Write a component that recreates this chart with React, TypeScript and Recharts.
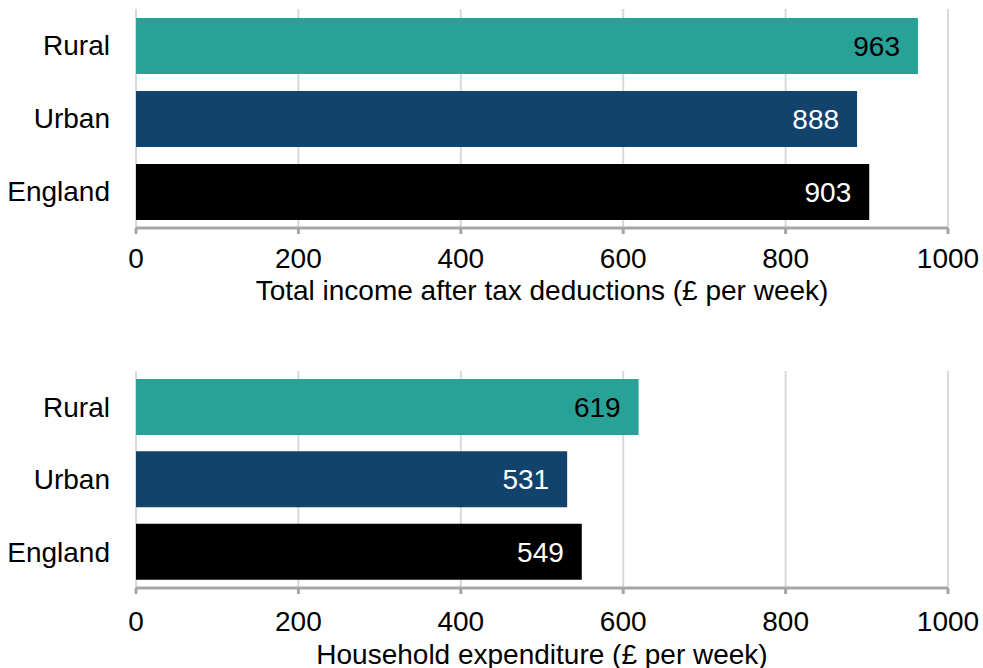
import { BarChart, Bar, XAxis, YAxis, CartesianGrid, Cell, LabelList } from "recharts";

const areas = ["Rural", "Urban", "England"];
const incomeValues = [963, 888, 903];
const expenditureValues = [619, 531, 549];
const xTicks = [0, 200, 400, 600, 800, 1000];

const barColors = ["#28a197", "#12436d", "#000000"];
const labelColors = ["#000000", "#ffffff", "#ffffff"];
const FONT = "'Liberation Sans', Arial, sans-serif";
const FS = 28;

const incomeData = areas.map((area, i) => ({ area, value: incomeValues[i] }));
const expenditureData = areas.map((area, i) => ({ area, value: expenditureValues[i] }));

// value label sits inside the bar, right aligned near its end
const renderValue = (props: any) => {
    const { x, y, width, height, value, index } = props;
    return (
        <text
            x={x + width - 18}
            y={y + height / 2}
            dy="0.36em"
            textAnchor="end"
            fontSize={FS}
            fontFamily={FONT}
            fill={labelColors[index]}
        >
            {value}
        </text>
    );
};

interface PanelProps {
    data: { area: string; value: number }[];
    title: string;
    plotHeight: number;
    tickGap: number;
    titleOffset: number;
}

function Panel({ data, title, plotHeight, tickGap, titleOffset }: PanelProps) {
    const height = 9 + plotHeight + 80;
    return (
        <BarChart
            width={983}
            height={height}
            data={data}
            layout="vertical"
            margin={{ top: 9, right: 35, left: 0, bottom: 0 }}
        >
            <CartesianGrid horizontal={false} stroke="#d9d9d9" strokeWidth={2} />
            <XAxis
                type="number"
                domain={[0, 1000]}
                ticks={xTicks}
                height={80}
                tick={{ fontSize: FS, fill: "#000", fontFamily: FONT }}
                tickSize={6}
                tickMargin={tickGap}
                axisLine={{ stroke: "#a6a6a6", strokeWidth: 3 }}
                tickLine={{ stroke: "#a6a6a6", strokeWidth: 3 }}
                label={{
                    value: title,
                    position: "insideBottom",
                    offset: titleOffset,
                    fontSize: FS,
                    fill: "#000",
                    fontFamily: FONT,
                }}
            />
            <YAxis
                type="category"
                dataKey="area"
                width={136}
                tick={{ fontSize: FS, fill: "#000", fontFamily: FONT }}
                tickLine={false}
                axisLine={false}
                tickSize={0}
                tickMargin={26}
            />
            <Bar dataKey="value" barSize={56} isAnimationActive={false}>
                {data.map((d, i) => (
                    <Cell key={d.area} fill={barColors[i]} />
                ))}
                <LabelList dataKey="value" content={renderValue} />
            </Bar>
        </BarChart>
    );
}

export default function App() {
    return (
        <div style={{ position: "absolute", left: 0, top: 0, width: 983, height: 668, background: "#fff" }}>
            <div style={{ position: "absolute", left: 0, top: 0 }}>
                <Panel
                    data={incomeData}
                    title="Total income after tax deductions (£ per week)"
                    plotHeight={219}
                    tickGap={14}
                    titleOffset={8}
                />
            </div>
            <div style={{ position: "absolute", left: 0, top: 362 }}>
                <Panel
                    data={expenditureData}
                    title="Household expenditure (£ per week)"
                    plotHeight={217}
                    tickGap={17}
                    titleOffset={4}
                />
            </div>
        </div>
    );
}
